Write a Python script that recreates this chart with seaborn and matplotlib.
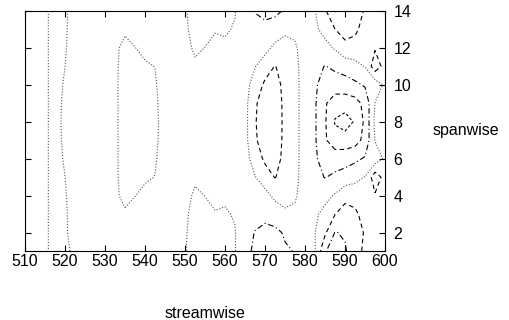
import numpy as np
import matplotlib
matplotlib.use("Agg")
import matplotlib.pyplot as plt
import seaborn as sns

# grid of the velocity perturbation field
streamwise = np.arange(510.0, 600.1, 2.5)
spanwise = np.arange(1, 15)

# rows are symmetric about spanwise = 8; each list runs along streamwise
u_y8 = [-0.3, -0.2, -0.05, 0.1, -0.067, -0.12, -0.2, -0.2, -0.15, -0.05,
        0.12, 0.12, 0.12, 0.06, -0.11, -0.25, -0.3, -0.35, -0.35, -0.38,
        -0.35, -0.2, -0.15, 0.45, 0.875, 0.9, 0.33, 0.1, -0.15, -0.45,
        -0.95, -1.55, -1.7, -1.45, -0.9, 0.1, 0.2]
u_y7_9 = [-0.3, -0.2, -0.05, 0.1, -0.055, -0.12, -0.2, -0.2, -0.15, -0.05,
          0.12, 0.12, 0.11, 0.05, -0.12, -0.24, -0.28, -0.32, -0.33, -0.36,
          -0.33, -0.22, -0.15, 0.42, 0.8, 0.86, 0.33, 0.1, -0.15, -0.45,
          -0.95, -1.25, -1.3, -1.2, -0.85, 0.02, 0.15]
u_y6_10 = [-0.3, -0.2, -0.05, 0.1, -0.03, -0.12, -0.2, -0.2, -0.15, -0.05,
           0.12, 0.1, 0.09, 0.03, -0.14, -0.22, -0.24, -0.25, -0.27, -0.3,
           -0.27, -0.2, -0.17, 0.2, 0.6, 0.74, 0.32, 0.1, -0.15, -0.42,
           -0.75, -0.75, -0.7, -0.6, -0.45, -0.3, 0.1]
u_y5_11 = [-0.3, -0.2, -0.05, 0.1, 0.002, -0.12, -0.2, -0.2, -0.15, -0.05,
           0.11, 0.06, 0.035, -0.005, -0.16, -0.2, -0.17, -0.05, -0.15, -0.2,
           -0.17, -0.15, -0.2, -0.02, 0.25, 0.52, 0.3, 0.09, -0.16, -0.35,
           -0.52, -0.4, -0.3, -0.15, 0.02, 0.8, 0.3]
u_y4_12 = [-0.3, -0.2, -0.05, 0.1, 0.02, -0.12, -0.2, -0.2, -0.15, -0.05,
           0.07, 0.005, -0.065, -0.1, -0.18, -0.18, -0.1, 0.05, -0.005, -0.08,
           -0.06, -0.1, -0.25, -0.4, -0.15, 0.12, 0.2, 0.05, -0.18, -0.25,
           -0.15, 0.05, 0.35, 0.3, 0.1, 0.45, 0.2]
u_y3_13 = [-0.3, -0.2, -0.05, 0.1, 0.035, -0.12, -0.2, -0.2, -0.15, -0.05,
           -0.038, -0.09, -0.12, -0.15, -0.2, -0.15, -0.05, 0.1, 0.1, 0.02,
           0.04, -0.03, -0.32, -0.42, -0.38, -0.28, -0.1, -0.08, -0.2, -0.08,
           0.15, 0.49, 0.7, 0.6, 0.3, 0.2, 0.15]
u_y2_14 = [-0.3, -0.2, -0.05, 0.1, 0.04, -0.12, -0.2, -0.2, -0.15, -0.05,
           -0.1, -0.12, -0.15, -0.17, -0.2, -0.13, -0.03, 0.12, 0.13, 0.08,
           0.07, 0.02, -0.4, -0.51, -0.62, -0.6, -0.45, -0.35, -0.22, -0.01,
           0.42, 1.02, 0.95, 0.75, 0.45, 0.3, 0.2]
u_y1 = [-0.3, -0.2, -0.05, 0.1, 0.06, -0.06, -0.2, -0.2, -0.15, -0.05,
        -0.08, -0.1, -0.13, -0.17, -0.2, -0.12, -0.02, 0.13, 0.13, 0.09,
        0.07, 0.02, -0.42, -0.55, -0.7, -0.68, -0.55, -0.48, -0.3, -0.01,
        0.95, 1.3, 1.05, 0.7, 0.4, 0.3, 0.2]

levels = [-1.5, -1.0, -0.5, 0.0, 0.5, 1.0]
x_ticks = [510, 520, 530, 540, 550, 560, 570, 580, 590, 600]
y_ticks = [2, 4, 6, 8, 10, 12, 14]

rows = {1: u_y1, 2: u_y2_14, 3: u_y3_13, 4: u_y4_12, 5: u_y5_11,
        6: u_y6_10, 7: u_y7_9, 8: u_y8, 9: u_y7_9, 10: u_y6_10,
        11: u_y5_11, 12: u_y4_12, 13: u_y3_13, 14: u_y2_14}
field = np.array([rows[int(y)] for y in spanwise])

sns.set_style("ticks")
plt.rcParams["font.family"] = ["Liberation Sans", "DejaVu Sans"]
plt.rcParams["text.color"] = "black"
plt.rcParams["xtick.color"] = "black"
plt.rcParams["ytick.color"] = "black"

fig = plt.figure(figsize=(5.1, 3.2), dpi=100)
ax = fig.add_axes([0.049, 0.2156, 0.706, 0.75])

dash_dot = (0, (5, 2.5, 1, 2.5))
dashed = (0, (4, 3))
short = (0, (2.5, 2))
dotted = (0, (1, 1.6))
styles = [short, dashed, dash_dot, dotted, dashed, dash_dot]
colors = ["black", "black", "black", "#555555", "black", "black"]

ax.contour(streamwise, spanwise, field, levels=levels, colors=colors,
           linestyles=styles, linewidths=0.8)

ax.set_xlim(510, 600)
ax.set_ylim(1, 14)
ax.set_xticks(x_ticks)
ax.set_yticks(y_ticks)
ax.tick_params(axis="x", direction="in", top=True, bottom=True,
               labelbottom=True, labeltop=False, length=4, width=0.8,
               pad=2, labelsize=11.5, colors="black")
ax.tick_params(axis="y", direction="in", left=True, right=True,
               labelleft=False, labelright=True, length=4, width=0.8,
               pad=6, labelsize=11.5, colors="black")
for sp in ax.spines.values():
    sp.set_linewidth(0.8)
    sp.set_color("black")
    sp.set_visible(True)

fig.text(466 / 510, 1 - 130 / 320, "spanwise", fontsize=11.5,
         ha="center", va="center", color="black")
fig.text(205 / 510, 1 - 313 / 320, "streamwise", fontsize=11.5,
         ha="center", va="center", color="black")

fig.savefig("out.png", dpi=100)
